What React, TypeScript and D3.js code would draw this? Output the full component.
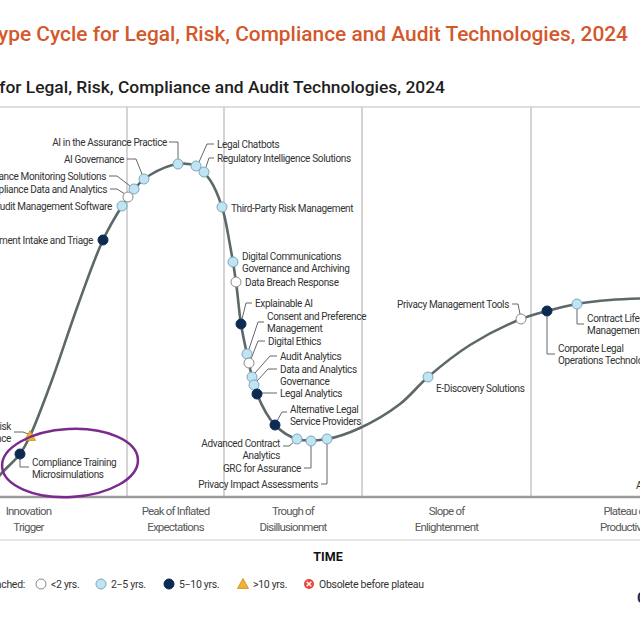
import React from "react";
import * as d3 from "d3";

// ---------- DATA ----------
// Hype curve samples (time units, expectation units)
const curveTime = [-1.0, 0, 2.0, 3.0, 5.2, 7.8, 10.3, 12.2, 13.4, 15.0, 17.8, 19.6, 21.0, 22.2, 23.0, 23.6, 24.1, 24.7, 25.7, 27.5, 29.7, 32.7, 36.0, 40.0, 42.8, 47.0, 52.1, 54.7, 57.7, 61.0, 66.0];
const curveExp = [0.7, 2.2, 4.3, 6.1, 11.7, 19.2, 25.7, 29.1, 30.8, 32.2, 33.3, 33.1, 31.7, 29.0, 25.2, 21.5, 17.3, 14.3, 10.3, 7.2, 5.8, 5.8, 6.9, 9.3, 12.0, 15.2, 17.8, 18.6, 19.3, 19.7, 19.9];

const phaseNames = [
  ["Innovation", "Trigger"],
  ["Peak of Inflated", "Expectations"],
  ["Trough of", "Disillusionment"],
  ["Slope of", "Enlightenment"],
  ["Plateau of", "Productivity"],
];
const phaseBounds = [-7.0, 12.7, 22.4, 36.2, 53.1, 72.0];

const techNames = [
  ["Compliance Training", "Microsimulations"],
  ["Legal Risk", "Intelligence"],
  ["Legal Department Intake and Triage"],
  ["Audit Management Software"],
  ["Compliance Data and Analytics"],
  ["Compliance Monitoring Solutions"],
  ["AI Governance"],
  ["AI in the Assurance Practice"],
  ["Legal Chatbots"],
  ["Regulatory Intelligence Solutions"],
  ["Third-Party Risk Management"],
  ["Digital Communications", "Governance and Archiving"],
  ["Data Breach Response"],
  ["Explainable AI"],
  ["Consent and Preference", "Management"],
  ["Digital Ethics"],
  ["Audit Analytics"],
  ["Data and Analytics", "Governance"],
  ["Legal Analytics"],
  ["Alternative Legal", "Service Providers"],
  ["Advanced Contract", "Analytics"],
  ["GRC for Assurance"],
  ["Privacy Impact Assessments"],
  ["E-Discovery Solutions"],
  ["Privacy Management Tools"],
  ["Corporate Legal", "Operations Technology"],
  ["Contract Lifecycle", "Management"],
  ["AI Contract Review"],
];
const techTime = [2.0, 3.0, 10.3, 12.2, 12.8, 13.4, 14.4, 17.8, 19.6, 20.4, 22.2, 23.3, 23.6, 24.1, 24.7, 24.9, 25.2, 25.4, 25.7, 27.5, 29.7, 31.1, 32.7, 42.8, 52.1, 54.7, 57.7, 66.5];
const techExp = [4.3, 6.1, 25.7, 29.1, 30.0, 30.8, 31.8, 33.3, 33.1, 32.5, 29.0, 23.5, 21.5, 17.3, 14.3, 13.4, 12.0, 11.2, 10.3, 7.2, 5.8, 5.6, 5.8, 12.0, 17.8, 18.6, 19.3, 19.9];
// years to plateau: 0 = <2, 1 = 2-5, 2 = 5-10, 3 = >10
const techPlateau = [2, 3, 2, 1, 0, 1, 1, 1, 1, 1, 1, 1, 0, 2, 1, 0, 1, 1, 2, 2, 1, 1, 1, 1, 0, 2, 1, 1];

const legendLabels = ["<2 yrs.", "2\u22125 yrs.", "5\u221210 yrs.", ">10 yrs.", "Obsolete before plateau"];

// ---------- LAYOUT (label offsets relative to each dot, connector polylines) ----------
type Lab = { a: "start" | "end"; dx: number; dy: number; c?: number[][] };
const labelLayout: Lab[] = [
  { a: "start", dx: 12, dy: 8, c: [[0, 5], [0, 13], [9, 13]] },
  { a: "end", dx: -19, dy: -10, c: [[-16, -4], [-7, -4], [-2, -2]] },
  { a: "end", dx: -10, dy: 0 },
  { a: "end", dx: -10, dy: 0 },
  { a: "end", dx: -21, dy: -8, c: [[-18, -8], [-11, -8], [-3, -3]] },
  { a: "end", dx: -28, dy: -13, c: [[-25, -13], [-17, -13], [-4, -3]] },
  { a: "end", dx: -20, dy: -20, c: [[-17, -20], [-8, -20], [-2, -5]] },
  { a: "end", dx: -11, dy: -22, c: [[-9, -22], [0, -22], [0, -5]] },
  { a: "start", dx: 21, dy: -22, c: [[18, -22], [11, -22], [3, -4]] },
  { a: "start", dx: 13, dy: -14, c: [[10, -14], [5, -14], [2, -5]] },
  { a: "start", dx: 9, dy: 1 },
  { a: "start", dx: 9, dy: -6 },
  { a: "start", dx: 9, dy: 0 },
  { a: "start", dx: 14, dy: -21, c: [[11, -21], [5, -21], [1, -5]] },
  { a: "start", dx: 20, dy: -38, c: [[17, -32], [11, -32], [2, -5]] },
  { a: "start", dx: 19, dy: -22, c: [[16, -22], [9, -22], [2, -4]] },
  { a: "start", dx: 28, dy: -21, c: [[25, -21], [18, -21], [3, -4]] },
  { a: "start", dx: 26, dy: -16, c: [[23, -16], [14, -16], [3, -4]] },
  { a: "start", dx: 23, dy: -1, c: [[4, -1], [20, -1]] },
  { a: "start", dx: 15, dy: -16, c: [[12, -13], [7, -13], [2, -4]] },
  { a: "end", dx: -17, dy: 4, c: [[-14, 7], [-8, 7], [-3, 3]] },
  { a: "end", dx: -10, dy: 27, c: [[0, 5], [0, 27], [-7, 27]] },
  { a: "end", dx: -9, dy: 45, c: [[0, 5], [0, 45], [-6, 45]] },
  { a: "start", dx: 8, dy: 11 },
  { a: "end", dx: -12, dy: -15, c: [[-9, -15], [-3, -15], [-1, -5]] },
  { a: "start", dx: 11, dy: 37, c: [[0, 5], [0, 43], [8, 43]] },
  { a: "start", dx: 10, dy: 14, c: [[0, 5], [0, 20], [7, 20]] },
  { a: "start", dx: -29, dy: 187 },
];

const NAVY = "#0d2b52";
const LBLUE = "#bfe4f3";
const LBLUE_S = "#7ea9ba";
const GREY_S = "#8a8a8a";
const TRI = "#f2b134";
const RED = "#e8453c";
const FONT = "Roboto, 'Noto Sans', sans-serif";

function Marker({ kind, cx, cy }: { kind: number; cx: number; cy: number }) {
  if (kind === 3) {
    const s = 5.5;
    return (
      <path
        d={`M${cx},${cy - s}L${cx + s},${cy + s * 0.8}L${cx - s},${cy + s * 0.8}Z`}
        fill={TRI}
        stroke="#c98d12"
        strokeWidth={0.8}
      />
    );
  }
  if (kind === 4) {
    return (
      <g>
        <circle cx={cx} cy={cy} r={5} fill={RED} />
        <path d={`M${cx - 2.3},${cy - 2.3}L${cx + 2.3},${cy + 2.3}M${cx + 2.3},${cy - 2.3}L${cx - 2.3},${cy + 2.3}`} stroke="#fff" strokeWidth={1.4} />
      </g>
    );
  }
  const fill = kind === 0 ? "#fff" : kind === 1 ? LBLUE : NAVY;
  const stroke = kind === 0 ? GREY_S : kind === 1 ? LBLUE_S : NAVY;
  return <circle cx={cx} cy={cy} r={5} fill={fill} stroke={stroke} strokeWidth={1} />;
}

export default function App() {
  const x = d3.scaleLinear().domain([0, 64]).range([0, 640]);
  const y = d3.scaleLinear().domain([0, 39]).range([497, 107]);

  const line = d3
    .line<number>()
    .x((_, i) => x(curveTime[i]))
    .y((_, i) => y(curveExp[i]))
    .curve(d3.curveCatmullRom.alpha(0.5));

  const dots = techNames.map((name, i) => ({
    name,
    px: x(techTime[i]),
    py: y(techExp[i]),
    kind: techPlateau[i],
    lab: labelLayout[i],
  }));

  const lineH = 12.5;
  const labelStyle: React.CSSProperties = { letterSpacing: "-0.35px" };

  const legendX = [41, 101, 169, 243, 309];

  return (
    <svg
      width={640}
      height={640}
      viewBox="0 0 640 640"
      style={{ position: "absolute", left: 0, top: 0, background: "#fff" }}
      fontFamily={FONT}
    >
      <rect x={0} y={0} width={640} height={640} fill="#fff" />
      {/* Titles */}
      <text x={628} y={41} textAnchor="end" fontSize={20.9} fontWeight={500} fill="#d4582b">
        Hype Cycle for Legal, Risk, Compliance and Audit Technologies, 2024
      </text>
      <text x={445} y={93} textAnchor="end" fontSize={17.4} fontWeight={500} fill="#1e1e1e">
        Hype Cycle for Legal, Risk, Compliance and Audit Technologies, 2024
      </text>

      {/* frame lines */}
      <line x1={0} x2={640} y1={y(39)} y2={y(39)} stroke="#dedede" strokeWidth={2} />
      {phaseBounds.slice(1, -1).map((b, i) => (
        <line key={i} x1={x(b)} x2={x(b)} y1={y(39)} y2={y(0)} stroke="#c6c6c6" strokeWidth={1.5} />
      ))}
      <line x1={0} x2={640} y1={y(0)} y2={y(0)} stroke="#9a9a9a" strokeWidth={2.5} />
      <line x1={0} x2={640} y1={540} y2={540} stroke="#e6e6e6" strokeWidth={2} />

      {/* phase labels */}
      {phaseNames.map((p, i) => {
        const cx = x((phaseBounds[i] + phaseBounds[i + 1]) / 2);
        return (
          <text key={i} x={cx} y={511} textAnchor="middle" fontSize={11.5} fill="#5a5a5a" style={{ letterSpacing: "-0.8px" }}>
            {p.map((t, j) => (
              <tspan key={j} x={cx} dy={j === 0 ? "0.35em" : 16}>
                {t}
              </tspan>
            ))}
          </text>
        );
      })}

      {/* hype curve */}
      <path d={line(curveTime) || ""} fill="none" stroke="#5d6868" strokeWidth={2.6} />

      {/* connectors */}
      {dots.map((d, i) =>
        d.lab.c ? (
          <polyline
            key={i}
            points={d.lab.c.map((p) => `${d.px + p[0]},${d.py + p[1]}`).join(" ")}
            fill="none"
            stroke="#666"
            strokeWidth={1}
          />
        ) : null
      )}

      {/* markers */}
      {dots.map((d, i) => (
        <Marker key={i} kind={d.kind} cx={d.px} cy={d.py} />
      ))}

      {/* labels */}
      {dots.map((d, i) => {
        const lx = d.px + d.lab.dx;
        const ly = d.py + d.lab.dy;
        return (
          <text key={i} x={lx} y={ly} textAnchor={d.lab.a} fontSize={10} fill="#333" style={labelStyle}>
            {d.name.map((t, j) => (
              <tspan key={j} x={lx} dy={j === 0 ? "0.35em" : lineH}>
                {t}
              </tspan>
            ))}
          </text>
        );
      })}

      {/* highlight ellipse */}
      <ellipse
        cx={x(7.0)}
        cy={y(3.4)}
        rx={68}
        ry={34}
        transform={`rotate(-3 ${x(7.0)} ${y(3.4)})`}
        fill="none"
        stroke="#7b2b8c"
        strokeWidth={2.5}
      />

      {/* TIME */}
      <text x={328} y={561} textAnchor="middle" fontSize={12.5} fontWeight={700} fill="#111">
        TIME
      </text>

      {/* legend */}
      <text x={25} y={588} textAnchor="end" fontSize={10.5} fill="#333" style={{ letterSpacing: "-0.3px" }}>
        Plateau will be reached:
      </text>
      {legendLabels.map((l, i) => (
        <g key={i}>
          <Marker kind={i} cx={legendX[i]} cy={584} />
          <text x={legendX[i] + 10} y={588} fontSize={10.5} fill="#333" style={{ letterSpacing: "-0.3px" }}>
            {l}
          </text>
        </g>
      ))}

      {/* logo fragment */}
      <text x={637} y={603} fontSize={14} fontWeight={700} fill={NAVY}>
        Gartner
      </text>
    </svg>
  );
}
